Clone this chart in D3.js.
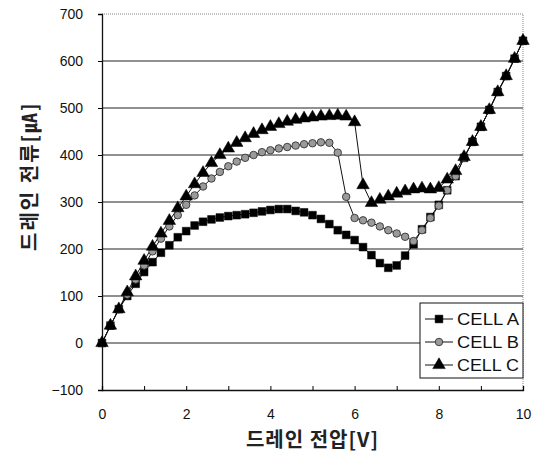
<!DOCTYPE html>
<html>
<head>
<meta charset="utf-8">
<script src="https://cdn.jsdelivr.net/npm/d3@7/dist/d3.min.js"></script>
<style>
  body { margin: 0; background: #fff; }
  svg { display: block; }
  .tick text { font-family: "Liberation Sans", Arial, sans-serif; font-size: 14px; fill: #111; }
</style>
</head>
<body>
<div class="chart"></div>
<script>
var width = 546
var height = 461
var margin = {top: 14, right: 23, bottom: 71, left: 102};

// drain voltage, 0.2 V steps
var voltage = d3.range(0, 51).map(function(i) { return +(i * 0.2).toFixed(1); });

var cellA = [0, 37, 72, 100, 126, 151, 172, 192, 208, 225,
  238, 250, 258, 263, 267, 270, 272, 274, 277, 280,
  283, 285, 285, 281, 278, 272, 264, 253, 240, 230,
  219, 204, 187, 170, 160, 165, 186, 210, 242, 268,
  294, 325, 355, 394, 428, 460, 496, 534, 568, 605, 643];
var cellB = [0, 37, 72, 103, 135, 165, 195, 222, 248, 272,
  294, 314, 333, 350, 364, 376, 386, 394, 400, 406,
  410, 414, 417, 420, 423, 425, 427, 426, 405, 311,
  266, 261, 256, 248, 240, 233, 226, 217, 240, 266,
  292, 325, 355, 394, 428, 460, 496, 534, 568, 605, 643];
var cellC = [0, 37, 72, 108, 142, 175, 205, 233, 260, 287,
  312, 338, 362, 383, 400, 414, 426, 436, 445, 453,
  460, 466, 471, 475, 478, 480, 482, 483, 484, 482,
  470, 336, 298, 305, 312, 318, 323, 327, 329, 327,
  330, 348, 366, 396, 428, 460, 496, 534, 568, 605, 643];

var seriesNames = ["CELL A", "CELL B", "CELL C"];
var xTicks = [0, 2, 4, 6, 8, 10];
var yTicks = [-100, 0, 100, 200, 300, 400, 500, 600, 700];

var w = width - margin.left - margin.right;
var h = height - margin.top - margin.bottom;

var svg = d3.select(".chart").append("svg")
    .attr("width", width)
    .attr("height", height);

var g = svg.append("g")
    .attr("transform", "translate(" + margin.left + "," + margin.top + ")");

var x = d3.scaleLinear().domain([0, 10]).range([0, w]);
var y = d3.scaleLinear().domain([-100, 700]).range([h, 0]);

// grid lines
g.append("g")
    .selectAll("line")
    .data(yTicks.filter(function(d) { return d > -100 && d < 700; }))
    .enter().append("line")
    .attr("x1", 0).attr("x2", w)
    .attr("y1", function(d) { return y(d); })
    .attr("y2", function(d) { return y(d); })
    .attr("stroke", "#222")
    .attr("stroke-width", 1.2);

// top / right frame (dotted grey)
g.append("path")
    .attr("d", "M0," + y(700) + "H" + w + "V" + h)
    .attr("fill", "none")
    .attr("stroke", "#888")
    .attr("stroke-dasharray", "1,1");

// y axis
var yAxis = g.append("g")
    .call(d3.axisLeft(y).tickValues(yTicks).tickSize(4).tickPadding(15)
      .tickFormat(function(d) { return d < 0 ? "\u2212" + Math.abs(d) : d; }));
yAxis.select(".domain").attr("stroke", "#111").attr("stroke-width", 1.3);

// x axis
var xAxis = g.append("g")
    .attr("transform", "translate(0," + h + ")")
    .call(d3.axisBottom(x).tickValues(d3.range(0, 11)).tickSize(-4).tickPadding(19)
      .tickFormat(function(d) { return xTicks.indexOf(d) >= 0 ? d : ""; }));
xAxis.select(".domain").attr("stroke", "#111").attr("stroke-width", 1.3);

// series
var line = d3.line()
    .x(function(d) { return x(d[0]); })
    .y(function(d) { return y(d[1]); });

var allSeries = [cellA, cellB, cellC].map(function(vals) {
  return vals.map(function(v, i) { return [voltage[i], v]; });
});

var square = d3.symbol().type(d3.symbolSquare).size(60);
var circle = d3.symbol().type(d3.symbolCircle).size(44);
var triangle = d3.symbol().type(d3.symbolTriangle).size(68);
var symbols = [square, circle, triangle];
var fills = ["#000", "#9a9a9a", "#000"];
var strokes = ["#000", "#333", "#000"];

allSeries.forEach(function(data, k) {
  g.append("path")
      .datum(data)
      .attr("d", line)
      .attr("fill", "none")
      .attr("stroke", "#111")
      .attr("stroke-width", 1);
});

allSeries.forEach(function(data, k) {
  g.append("g")
      .selectAll("path")
      .data(data)
      .enter().append("path")
      .attr("transform", function(d) { return "translate(" + x(d[0]) + "," + y(d[1]) + ")"; })
      .attr("d", symbols[k])
      .attr("fill", fills[k])
      .attr("stroke", strokes[k])
      .attr("stroke-width", k === 1 ? 0.9 : 0.5);
});

// legend
var legend = g.append("g")
    .attr("transform", "translate(" + (w - 103) + "," + (y(0) - 40) + ")");

legend.append("rect")
    .attr("width", 103)
    .attr("height", 75)
    .attr("fill", "#fff")
    .attr("stroke", "#111");

seriesNames.forEach(function(name, k) {
  var row = legend.append("g").attr("transform", "translate(0," + (16 + k * 23) + ")");
  row.append("line")
      .attr("x1", 5).attr("x2", 33)
      .attr("stroke", "#111");
  row.append("path")
      .attr("transform", "translate(19,0)")
      .attr("d", symbols[k])
      .attr("fill", fills[k])
      .attr("stroke", strokes[k])
      .attr("stroke-width", k === 1 ? 0.9 : 0.5);
  row.append("text")
      .attr("x", 37)
      .attr("y", 6)
      .attr("font-family", "'Liberation Sans Narrow', 'Liberation Sans', Arial, sans-serif")
      .attr("font-size", 17)
      .attr("textLength", 62)
      .attr("lengthAdjust", "spacingAndGlyphs")
      .attr("fill", "#111")
      .text(name);
});

// axis titles
svg.append("text")
    .attr("x", margin.left + w / 2)
    .attr("y", 447)
    .attr("text-anchor", "middle")
    .attr("font-family", "'Noto Sans CJK KR', sans-serif")
    .attr("font-weight", "bold")
    .attr("font-size", 20)
    .attr("letter-spacing", 1)
    .attr("fill", "#222")
    .text("드레인 전압[V]");

svg.append("text")
    .attr("transform", "translate(37," + (margin.top + y(355)) + ") rotate(-90)")
    .attr("text-anchor", "middle")
    .attr("font-family", "'Noto Sans CJK KR', sans-serif")
    .attr("font-weight", "bold")
    .attr("font-size", 20)
    .attr("letter-spacing", 2)
    .attr("fill", "#222")
    .text("드레인 전류[㎂]");
</script>
</body>
</html>
